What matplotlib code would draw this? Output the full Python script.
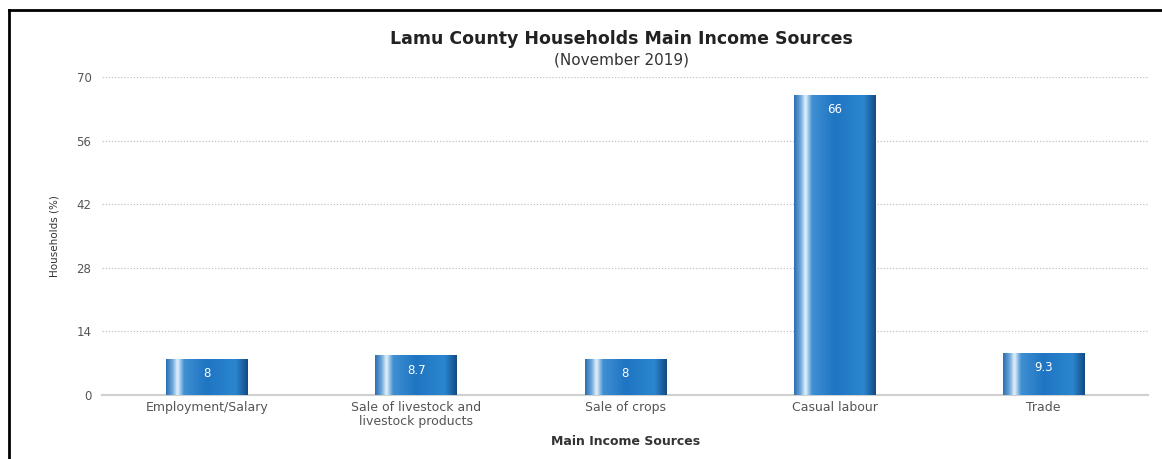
import numpy as np
import matplotlib.pyplot as plt
from matplotlib.colors import LinearSegmentedColormap
from matplotlib.lines import Line2D
from matplotlib.patches import Rectangle

categories = ['Employment/Salary', 'Sale of livestock and\nlivestock products',
              'Sale of crops', 'Casual labour', 'Trade']
values = [8, 8.7, 8, 66, 9.3]
value_labels = ['8', '8.7', '8', '66', '9.3']
yticks = [0, 14, 28, 42, 56, 70]

fig = plt.figure(figsize=(11.62, 4.59), dpi=100)
ax = fig.add_axes([0.0882, 0.1394, 0.9000, 0.6928])

# horizontal gradient used to fake the shiny bars
cmap = LinearSegmentedColormap.from_list('shine', [
    (0.00, '#2a6fb0'), (0.08, '#6fa8dc'), (0.14, '#e6f2fb'),
    (0.22, '#3f8fd2'), (0.50, '#1f75c2'), (0.85, '#2c86cf'),
    (0.95, '#1a5f9e'), (1.00, '#134a80')])
grad = np.linspace(0, 1, 256).reshape(1, -1)

width = 0.39
for i, v in enumerate(values):
    x0 = i - width / 2
    im = ax.imshow(grad, extent=(x0, x0 + width, 0, v), aspect='auto',
                   cmap=cmap, zorder=3, interpolation='bicubic')
    clip = Rectangle((x0, 0), width, v, transform=ax.transData)
    im.set_clip_path(clip)
    ax.text(i, v - 3.2, value_labels[i], ha='center', va='center',
            color='white', fontsize=8.5, zorder=4)

ax.set_xlim(-0.5, len(categories) - 0.5)
ax.set_ylim(0, 70)
ax.set_yticks(yticks)
ax.set_xticks(range(len(categories)))
ax.set_xticklabels(categories, fontsize=9, color='#555555', linespacing=1.15)
ax.tick_params(axis='y', labelsize=8.5, labelcolor='#555555', length=0, pad=8)
ax.tick_params(axis='x', length=0, pad=4)
ax.grid(axis='y', linestyle=(0, (1, 1.5)), color='#c0c0c0', linewidth=0.9, zorder=0)
for s in ['top', 'right', 'left']:
    ax.spines[s].set_visible(False)
ax.spines['bottom'].set_color('#d0d0d0')
ax.spines['bottom'].set_linewidth(1.5)

ax.set_ylabel('Households (%)', fontsize=7.5, color='#333333', labelpad=12)
ax.set_xlabel('Main Income Sources', fontsize=9, fontweight='bold',
              color='#333333', labelpad=5)

fig.text(0.535, 0.915, 'Lamu County Households Main Income Sources',
         ha='center', va='center', fontsize=12.5, fontweight='bold', color='#222222')
fig.text(0.535, 0.87, '(November 2019)', ha='center', va='center',
         fontsize=11, color='#333333')

# frame lines of the original screenshot
fig.add_artist(Line2D([0.008, 1.0], [0.978, 0.978], color='black', linewidth=2))
fig.add_artist(Line2D([0.008, 0.008], [0.0, 0.978], color='black', linewidth=2))

fig.savefig('out.png', dpi=100)
